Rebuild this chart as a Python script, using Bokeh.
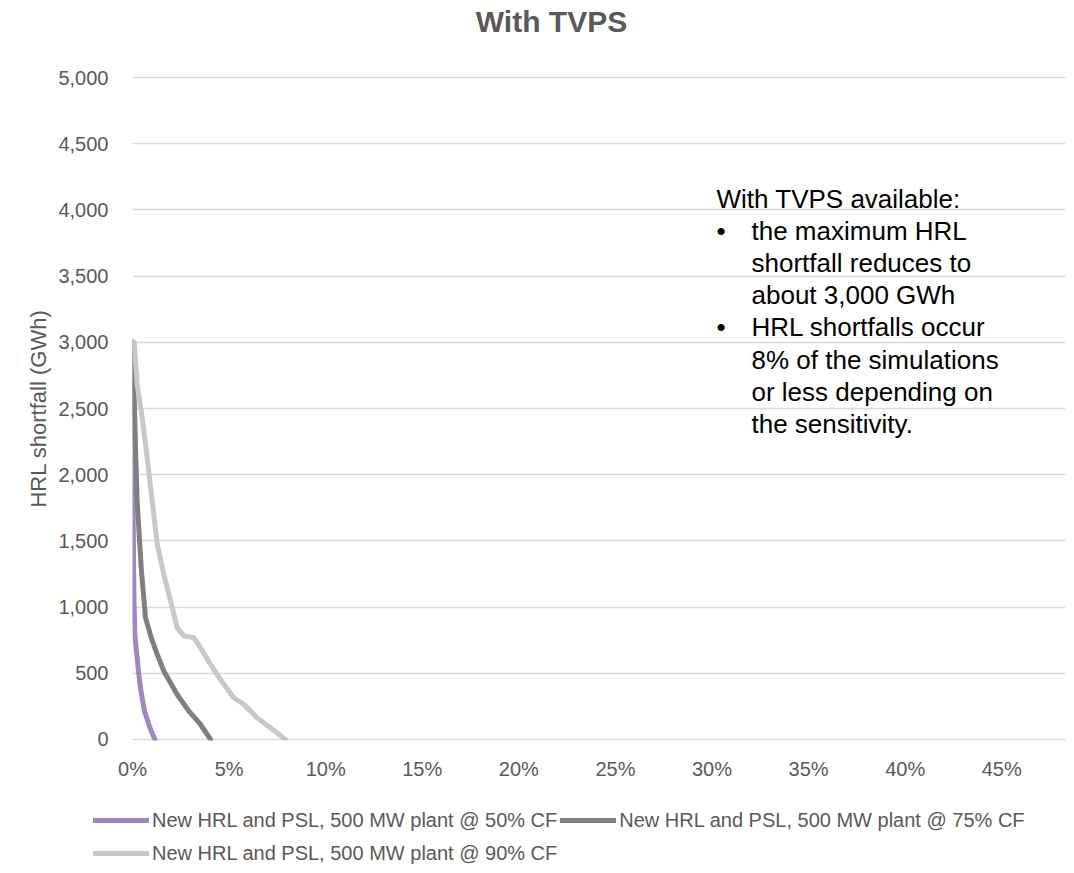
from bokeh.plotting import figure
from bokeh.layouts import column
from bokeh.models import Range1d, NumeralTickFormatter, FixedTicker, Legend, LegendItem, Label
from bokeh.embed import file_html
from bokeh.resources import INLINE

# ---- data (share of simulations, HRL shortfall GWh) ----
cf50_x = [0.0000, 0.0002, 0.0003, 0.0007, 0.0012, 0.0029, 0.0041, 0.0062, 0.0090, 0.0116]
cf50_y = [3000, 2634, 1802, 1122, 794, 542, 391, 214, 88, 0]

cf75_x = [0.0002, 0.0007, 0.0016, 0.0024, 0.0045, 0.0067, 0.0097, 0.0128, 0.0162, 0.0231, 0.0292, 0.0352, 0.0404]
cf75_y = [3000, 2685, 2181, 1802, 1298, 920, 769, 643, 517, 340, 214, 113, 0]

cf90_x = [0.0000, 0.0009, 0.0024, 0.0050, 0.0076, 0.0102, 0.0128, 0.0162, 0.0197, 0.0231, 0.0266,
          0.0317, 0.0352, 0.0404, 0.0473, 0.0524, 0.0576, 0.0645, 0.0714, 0.0792]
cf90_y = [3010, 3000, 2685, 2433, 2130, 1802, 1475, 1248, 1046, 845, 782,
          769, 693, 567, 416, 315, 265, 164, 88, 0]

series_names = ["New HRL and PSL, 500 MW plant @ 50% CF",
                "New HRL and PSL, 500 MW plant @ 75% CF",
                "New HRL and PSL, 500 MW plant @ 90% CF"]
series_colors = ["#9f88c2", "#7f7f7f", "#c8c8c8"]

x_ticks = [0.0, 0.05, 0.10, 0.15, 0.20, 0.25, 0.30, 0.35, 0.40, 0.45]
y_ticks = [0, 500, 1000, 1500, 2000, 2500, 3000, 3500, 4000, 4500, 5000]

title_text = "With TVPS"
y_label = "HRL shortfall (GWh)"
note_lines = [
    ("", "With TVPS available:"),
    ("\u2022", "the maximum HRL"),
    ("", "shortfall reduces to"),
    ("", "about 3,000 GWh"),
    ("\u2022", "HRL shortfalls occur"),
    ("", "8% of the simulations"),
    ("", "or less depending on"),
    ("", "the sensitivity."),
]

FONT = "Liberation Sans"
TXT = "#595959"


def blank_strip(h):
    f = figure(width=1074, height=h, output_backend="svg", toolbar_location=None,
               x_range=Range1d(1, 2), y_range=Range1d(0, 1), title=None,
               min_border_left=0, min_border_right=0, min_border_top=0, min_border_bottom=0)
    f.axis.visible = False
    f.grid.visible = False
    f.outline_line_color = None
    f.border_fill_color = "white"
    f.background_fill_color = "white"
    f.frame_align = False
    return f


# ---- title strip ----
tf = blank_strip(50)
tf.add_layout(Label(x=551, y=50 - 21, x_units="screen", y_units="screen", text=title_text,
                    text_font=FONT, text_font_size="30px", text_font_style="bold",
                    text_color=TXT, text_align="center", text_baseline="middle"))

# ---- main chart ----
p = figure(width=1074, height=750, output_backend="svg", toolbar_location=None, title=None,
           x_range=Range1d(0, 0.483), y_range=Range1d(-8, 5008),
           min_border_left=132, min_border_right=9, min_border_top=26, min_border_bottom=60)
p.frame_align = False
p.outline_line_color = None
p.background_fill_color = "white"
p.border_fill_color = "white"

for ax in (p.xaxis[0], p.yaxis[0]):
    ax.axis_line_color = None
    ax.major_tick_line_color = None
    ax.minor_tick_line_color = None
    ax.major_tick_out = 0
    ax.major_tick_in = 0
    ax.major_label_text_font = FONT
    ax.major_label_text_font_size = "20px"
    ax.major_label_text_color = TXT

p.xaxis.ticker = FixedTicker(ticks=x_ticks)
p.xaxis.formatter = NumeralTickFormatter(format="0%")
p.xaxis.major_label_standoff = 17

p.yaxis.ticker = FixedTicker(ticks=y_ticks)
p.yaxis.formatter = NumeralTickFormatter(format="0,0")
p.yaxis.major_label_standoff = 24
p.yaxis.axis_label = y_label
p.yaxis.axis_label_text_font = FONT
p.yaxis.axis_label_text_font_size = "22px"
p.yaxis.axis_label_text_font_style = "normal"
p.yaxis.axis_label_text_color = TXT
p.yaxis.axis_label_standoff = 4

p.xgrid.grid_line_color = None
p.ygrid.grid_line_color = "#d9d9d9"
p.ygrid.grid_line_width = 1.5

for xs, ys, c in zip([cf50_x, cf75_x, cf90_x], [cf50_y, cf75_y, cf90_y], series_colors):
    p.line(xs, ys, line_color=c, line_width=5, line_cap="round", line_join="round")

# annotation text box (screen units from the frame's bottom-left; frame bottom at page y=740)
base0 = 740 - 198
pitch = 32.2
for i, (bullet, txt) in enumerate(note_lines):
    yb = base0 - i * pitch
    if bullet:
        p.add_layout(Label(x=716 - 132, y=yb, x_units="screen", y_units="screen", text=bullet,
                           text_font=FONT, text_font_size="26px", text_color="black",
                           text_baseline="alphabetic"))
    xt = 716 - 132 if i == 0 else 751 - 132
    p.add_layout(Label(x=xt, y=yb, x_units="screen", y_units="screen", text=txt,
                       text_font=FONT, text_font_size="26px", text_color="black",
                       text_baseline="alphabetic"))

# ---- legend strip ----
lg = blank_strip(73)
items = []
for n, c, xs, ys in zip(series_names, series_colors, [cf50_x, cf75_x, cf90_x], [cf50_y, cf75_y, cf90_y]):
    r = lg.line(xs, ys, line_color=c, line_width=5, line_cap="round")
    items.append(LegendItem(label=n, renderers=[r]))
legend = Legend(items=items, orientation="horizontal", ncols=2,
                location=(93, 5),
                glyph_width=56, glyph_height=30, label_height=30, label_standoff=3,
                spacing=3, padding=0, margin=0,
                label_text_font=FONT, label_text_font_size="20px", label_text_color=TXT,
                border_line_color=None, background_fill_alpha=0)
lg.add_layout(legend, "center")

layout = column(tf, p, lg, spacing=0)
open("out.html", "w").write(file_html(layout, INLINE))
